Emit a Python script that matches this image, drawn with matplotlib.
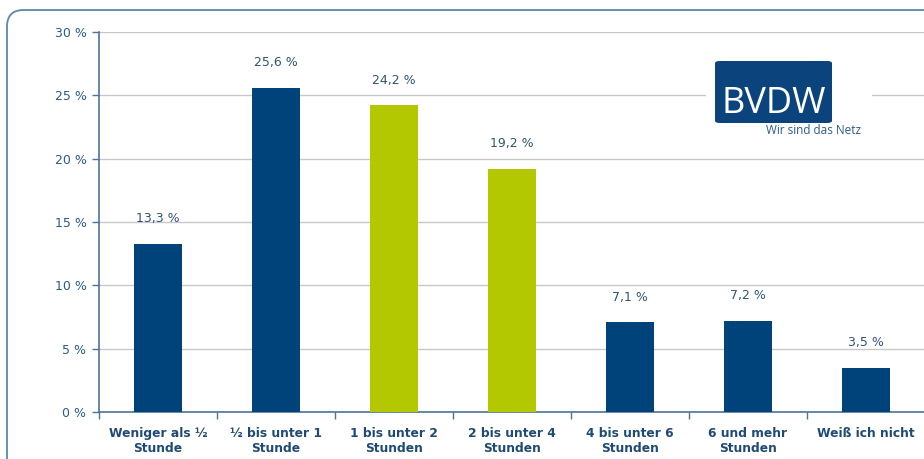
import matplotlib
matplotlib.use("Agg")
import matplotlib.pyplot as plt
from matplotlib.patches import FancyBboxPatch, Rectangle
import numpy as np

categories = ["Weniger als ½\nStunde", "½ bis unter 1\nStunde", "1 bis unter 2\nStunden",
              "2 bis unter 4\nStunden", "4 bis unter 6\nStunden", "6 und mehr\nStunden",
              "Weiß ich nicht"]
values = [13.3, 25.6, 24.2, 19.2, 7.1, 7.2, 3.5]
value_labels = ["13,3 %", "25,6 %", "24,2 %", "19,2 %", "7,1 %", "7,2 %", "3,5 %"]
highlight = [False, False, True, True, False, False, False]
yticks = [0, 5, 10, 15, 20, 25, 30]
ytick_labels = ["0 %", "5 %", "10 %", "15 %", "20 %", "25 %", "30 %"]

W, H = 924, 459
BLUE = "#00437b"
GREEN = "#b3c800"
AXCOL = "#4d7399"
TXT = "#2a5a8a"

fig = plt.figure(figsize=(W / 100, H / 100), dpi=100)
fig.patch.set_facecolor("white")

# rounded frame
frame = FancyBboxPatch((7 / W, -0.2), 1.2, (449 / H) + 0.2,
                       boxstyle="round,pad=0,rounding_size=0.018",
                       transform=fig.transFigure, facecolor="none",
                       edgecolor="#5f86ad", linewidth=1.3, mutation_aspect=W / H)
fig.add_artist(frame)

ax = fig.add_axes([99 / W, 47 / H, 826 / W, 380 / H])
x = np.arange(len(categories))
colors = [GREEN if h else BLUE for h in highlight]
ax.bar(x, values, width=0.41, color=colors, zorder=3)

ax.set_xlim(-0.5, len(categories) - 0.5)
ax.set_ylim(0, 30)
ax.set_yticks(yticks)
ax.set_yticklabels(ytick_labels, color=TXT, fontsize=9)
ax.yaxis.grid(True, color="#c8c8c8", linewidth=1, zorder=0)
ax.set_axisbelow(True)

ax.set_xticks(x)
ax.set_xticklabels(categories, fontsize=8.8, fontweight="bold", color="#1f4a78",
                   linespacing=1.25)
ax.set_xticks(np.arange(-0.5, len(categories) + 0.5, 1), minor=True)
ax.tick_params(axis="x", which="major", length=0, pad=10.5)
ax.tick_params(axis="x", which="minor", length=5, color=AXCOL, width=1)
ax.tick_params(axis="y", length=5, color=AXCOL, width=1, pad=4)

for s in ["top", "right"]:
    ax.spines[s].set_visible(False)
ax.spines["left"].set_color(AXCOL)
ax.spines["bottom"].set_color(AXCOL)
ax.spines["left"].set_linewidth(1.2)
ax.spines["bottom"].set_linewidth(1.2)

for xi, v, lab in zip(x, values, value_labels):
    ax.annotate(lab, (xi, v), xytext=(0, 18), textcoords="offset points",
                ha="center", va="center", fontsize=9, color="#2f5478")

# logo
fig.add_artist(Rectangle((706 / W, 1 - 140 / H), 166 / W, 85 / H,
                         transform=fig.transFigure, facecolor="white",
                         edgecolor="none", zorder=5))
fig.add_artist(FancyBboxPatch((715 / W, 1 - 123 / H), 117 / W, 62 / H,
                              boxstyle="round,pad=0,rounding_size=0.005",
                              transform=fig.transFigure, facecolor="#0b437d",
                              edgecolor="none", zorder=6))
fig.text(774 / W, 1 - 104 / H, "BVDW", color="white", fontsize=26,
         ha="center", va="center", family="Open Sans", zorder=7)
fig.text(814 / W, 1 - 131 / H, "Wir sind das Netz", color="#2b5b8b", fontsize=8.5,
         ha="center", va="center", family="Open Sans", zorder=7)

fig.savefig("out.png", dpi=100)
